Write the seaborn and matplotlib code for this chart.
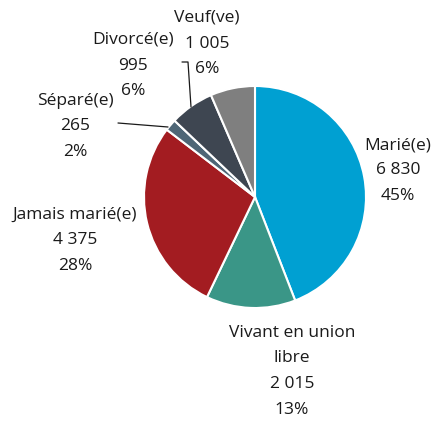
import matplotlib
matplotlib.use("Agg")
import matplotlib.pyplot as plt
import seaborn as sns

sns.set_theme(style="white")
plt.rcParams['font.family'] = ['Open Sans', 'DejaVu Sans']

# data, clockwise from 12 o'clock
categories = ['Marié(e)', 'Vivant en union\nlibre', 'Jamais marié(e)', 'Séparé(e)', 'Divorcé(e)', 'Veuf(ve)']
counts = [6830, 2015, 4375, 265, 995, 1005]
count_labels = ['6 830', '2 015', '4 375', '265', '995', '1 005']
pct_labels = ['45%', '13%', '28%', '2%', '6%', '6%']
colors = ['#00a0d2', '#3a9687', '#a31c21', '#4e6676', '#3e4651', '#7f7f7f']

W, H = 442, 421
fig = plt.figure(figsize=(W / 100, H / 100), dpi=100)

# pie centre (255, 197) px, radius 111 px
cx, cy, r = 255, 197, 111
ax = fig.add_axes([(cx - r) / W, (H - cy - r) / H, 2 * r / W, 2 * r / H])
ax.pie(counts, colors=colors, startangle=90, counterclock=False, radius=1,
       wedgeprops=dict(edgecolor='white', linewidth=1.5))
ax.set_xlim(-1, 1)
ax.set_ylim(-1, 1)
ax.set_aspect('auto')
ax.axis('off')

# label anchor positions in pixels (x centre, y of first line centre)
label_pos = [(398, 145), (292, 333), (75, 215), (75, 101), (133, 40), (207, 18)]
line_gap = 25.5
for cat, cnt, pct, (x, y) in zip(categories, count_labels, pct_labels, label_pos):
    lines = cat.split('\n') + [cnt, pct]
    for i, t in enumerate(lines):
        fig.text(x / W, 1 - (y + i * line_gap) / H, t, ha='center', va='center',
                 fontsize=12.5, color='#1a1a1a')

# leader lines
def px_line(xs, ys):
    fig.add_artist(plt.Line2D([v / W for v in xs], [1 - v / H for v in ys],
                              color='#1a1a1a', linewidth=0.9))

px_line([118, 168], [123, 127])
px_line([182, 188, 191], [62, 62, 107])

fig.savefig('out.png', dpi=100)
